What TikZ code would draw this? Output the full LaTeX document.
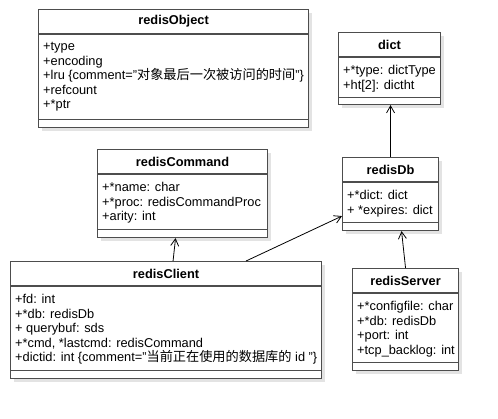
\documentclass[tikz,border=0pt]{standalone}
\usepackage{fontspec}
\setmainfont{Liberation Sans}
\newfontfamily\cjk{Noto Sans CJK SC}[Scale=1.03]
\usetikzlibrary{arrows.meta,calc,shadows}
\definecolor{frame}{HTML}{4D4D4D}
\definecolor{shade}{HTML}{E3E3E3}

\begin{document}
\begin{tikzpicture}[x=1pt, y=-1pt,
    classbox/.style={draw=frame, line width=1.1pt, fill=white, anchor=north west, inner sep=0pt,
                     drop shadow={shadow xshift=3.5pt, shadow yshift=-3.5pt, fill=shade, opacity=1}},
    sepline/.style={draw=frame, line width=1.1pt},
    classname/.style={font=\fontsize{12.8}{14}\selectfont\bfseries, inner sep=0pt},
    attrs/.style={font=\fontsize{12.8}{14.6}\selectfont, align=left, anchor=north west, inner sep=0pt},
    assoc/.style={-{Straight Barb[length=7pt,width=8pt]}, line width=0.8pt, black}
  ]
  \useasboundingbox (0,0) rectangle (498,418);

  % redisObject
  \node[classbox, minimum width=270pt, minimum height=118pt] (obj) at (38,9) {};
  \node[classname] (objname) at ($(obj.north)+(0,12.5)$) {redisObject};
  \draw[sepline] ($(obj.north west)+(0,25)$) -- ($(obj.north east)+(0,25)$);
  \draw[sepline] ($(obj.south west)+(0,-9)$) -- ($(obj.south east)+(0,-9)$);
  \node[attrs] (objattr) at ($(obj.north west)+(5,33)$)
    {+type\\+encoding\\+lru \{comment="{\cjk 对象最后一次被访问的时间}"\}\\+refcount\\+*ptr};

  % dict
  \node[classbox, minimum width=102pt, minimum height=72pt] (dict) at (338,32) {};
  \node[classname] (dictname) at ($(dict.north)+(0,12.5)$) {dict};
  \draw[sepline] ($(dict.north west)+(0,25)$) -- ($(dict.north east)+(0,25)$);
  \draw[sepline] ($(dict.south west)+(0,-8)$) -- ($(dict.south east)+(0,-8)$);
  \node[attrs] (dictattr) at ($(dict.north west)+(5,33)$)
    {+*type: dictType\\+ht[2]: dictht};

  % redisCommand
  \node[classbox, minimum width=170pt, minimum height=88pt] (cmd) at (97,149) {};
  \node[classname] (cmdname) at ($(cmd.north)+(0,12.5)$) {redisCommand};
  \draw[sepline] ($(cmd.north west)+(0,25)$) -- ($(cmd.north east)+(0,25)$);
  \draw[sepline] ($(cmd.south west)+(0,-9)$) -- ($(cmd.south east)+(0,-9)$);
  \node[attrs] (cmdattr) at ($(cmd.north west)+(5,33)$)
    {+*name: char\\+*proc: redisCommandProc\\+arity: int};

  % redisDb
  \node[classbox, minimum width=96pt, minimum height=73pt] (db) at (342,157) {};
  \node[classname] (dbname) at ($(db.north)+(0,12.5)$) {redisDb};
  \draw[sepline] ($(db.north west)+(0,25)$) -- ($(db.north east)+(0,25)$);
  \draw[sepline] ($(db.south west)+(0,-9)$) -- ($(db.south east)+(0,-9)$);
  \node[attrs] (dbattr) at ($(db.north west)+(5,33)$)
    {+*dict: dict\\+ *expires: dict};

  % redisClient
  \node[classbox, minimum width=311pt, minimum height=117pt] (client) at (10,261) {};
  \node[classname] (clientname) at ($(client.north)+(0,12.5)$) {redisClient};
  \draw[sepline] ($(client.north west)+(0,25)$) -- ($(client.north east)+(0,25)$);
  \draw[sepline] ($(client.south west)+(0,-9)$) -- ($(client.south east)+(0,-9)$);
  \node[attrs] (clientattr) at ($(client.north west)+(5,33)$)
    {+fd: int\\+*db: redisDb\\+ querybuf: sds\\+*cmd, *lastcmd: redisCommand\\
     +dictid: int \{comment="{\cjk 当前正在使用的数据库的} id "\}};

  % redisServer
  \node[classbox, minimum width=106pt, minimum height=102pt] (server) at (352,268) {};
  \node[classname] (servername) at ($(server.north)+(0,12.5)$) {redisServer};
  \draw[sepline] ($(server.north west)+(0,25)$) -- ($(server.north east)+(0,25)$);
  \draw[sepline] ($(server.south west)+(0,-9)$) -- ($(server.south east)+(0,-9)$);
  \node[attrs] (serverattr) at ($(server.north west)+(5,33)$)
    {+*configfile: char\\+*db: redisDb\\+port: int\\+tcp\_backlog: int};

  % Associations
  \draw[assoc] (db.north) -- (db.north |- dict.south);
  \draw[assoc] ($(client.north)+(7,0)$) -- ($(cmd.south)+(-7,0)$);
  \draw[assoc] ($(client.north)+(80,0)$) -- ($(db.west)+(0,22)$);
  \draw[assoc] (server.north) -- ($(db.south)+(11,0)$);
\end{tikzpicture}
\end{document}
